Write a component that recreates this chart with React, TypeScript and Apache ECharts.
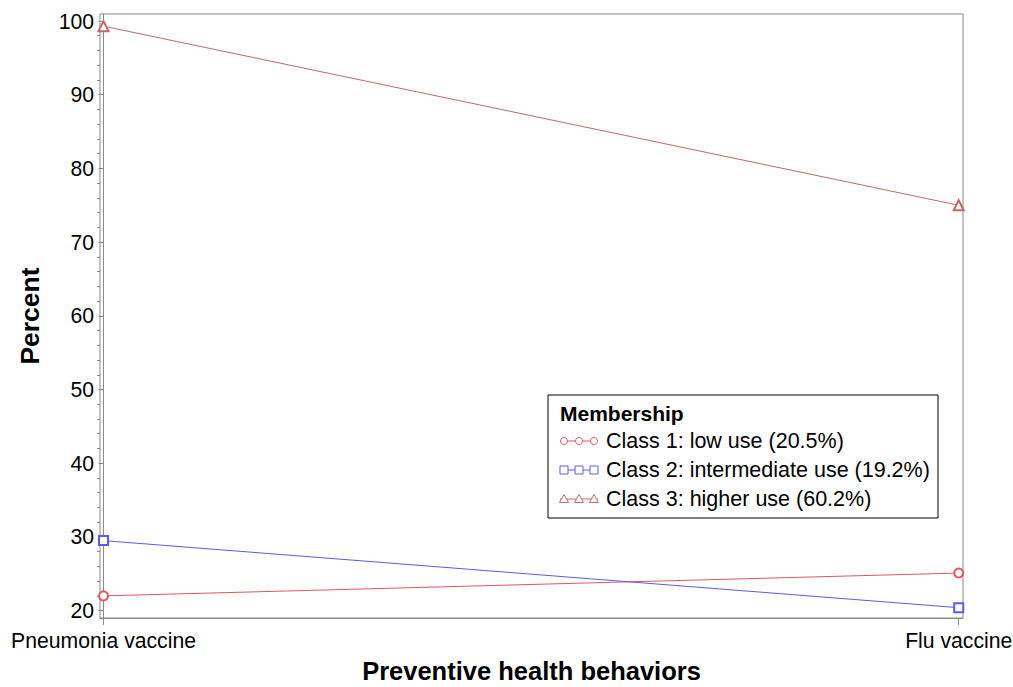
import React, { useEffect, useRef } from "react";
import * as echarts from "echarts";

const categories = ["Pneumonia vaccine", "Flu vaccine"];
const seriesNames = [
  "Class 1: low use (20.5%)",
  "Class 2: intermediate use (19.2%)",
  "Class 3: higher use (60.2%)",
];
const class1 = [22.0, 25.1];
const class2 = [29.5, 20.4];
const class3 = [99.3, 75.0];
const yTicks = [20, 30, 40, 50, 60, 70, 80, 90, 100];
const legendTitle = "Membership";

const colors = ["#e0575c", "#5a5af0", "#c06868"];
const symbols = ["emptyCircle", "emptyRect", "emptyTriangle"];
const FONT = "Liberation Sans, Arial, sans-serif";

export default function App() {
  const ref = useRef<HTMLDivElement>(null);
  useEffect(() => {
    if (!ref.current) return;
    const chart = echarts.init(ref.current, null, { renderer: "svg" });
    const values = [class1, class2, class3];
    const minorTicks: number[] = [];
    for (let v = 20; v < 100; v += 10) {
      for (let k = 2; k < 10; k += 2) minorTicks.push(v + k);
    }
    const gray = "#8a8a8a";

    // legend built with graphic elements
    const lx = 548, ly = 395, lw = 390, lh = 123;
    const legendChildren: any[] = [
      { type: "rect", shape: { x: lx, y: ly, width: lw, height: lh }, style: { fill: "#fff", stroke: "#000", lineWidth: 1 } },
      { type: "text", x: lx + 12, y: ly + 18, style: { text: legendTitle, font: `bold 21px ${FONT}`, fill: "#000", verticalAlign: "middle" } },
    ];
    seriesNames.forEach((name, i) => {
      const cy = ly + 46 + i * 29;
      const x0 = lx + 12;
      const c = colors[i];
      legendChildren.push({ type: "line", shape: { x1: x0, y1: cy, x2: x0 + 38, y2: cy }, style: { stroke: c, lineWidth: 1 } });
      [x0 + 4, x0 + 19, x0 + 34].forEach((mx) => {
        if (i === 0) legendChildren.push({ type: "circle", shape: { cx: mx, cy, r: 3.5 }, style: { fill: "#fff", stroke: c, lineWidth: 1 } });
        else if (i === 1) legendChildren.push({ type: "rect", shape: { x: mx - 4, y: cy - 4, width: 8, height: 8 }, style: { fill: "#fff", stroke: c, lineWidth: 1 } });
        else legendChildren.push({ type: "polygon", shape: { points: [[mx, cy - 4.5], [mx - 4.5, cy + 3.5], [mx + 4.5, cy + 3.5]] }, style: { fill: "#fff", stroke: c, lineWidth: 1 } });
      });
      legendChildren.push({ type: "text", x: x0 + 46, y: cy, style: { text: name, font: `21.5px ${FONT}`, fill: "#000", verticalAlign: "middle" } });
    });

    chart.setOption({
      animation: false,
      backgroundColor: "#fff",
      textStyle: { fontFamily: FONT },
      grid: {
        left: 100, top: 14, right: 50, bottom: 69,
        show: true, borderColor: gray, borderWidth: 1,
        containLabel: false, outerBoundsMode: "none",
      },
      xAxis: {
        type: "value",
        min: -0.0041,
        max: 1.005,
        name: "Preventive health behaviors",
        nameLocation: "middle",
        nameGap: 40,
        nameTextStyle: { fontSize: 25.5, lineHeight: 26, fontWeight: "bold", color: "#000", fontFamily: FONT },
        axisLine: { show: true, lineStyle: { color: gray } },
        axisTick: { show: true, length: 7, customValues: [0, 1], lineStyle: { color: gray } },
        axisLabel: {
          customValues: [0, 1],
          formatter: (v: number) => categories[Math.round(v)],
          fontSize: 21.2,
          color: "#000",
          margin: 12,
          fontFamily: FONT,
        },
        splitLine: { show: false },
      },
      yAxis: [
        {
          type: "value",
          min: 19,
          max: 100.95,
          name: "Percent",
          nameLocation: "middle",
          nameGap: 57,
          nameTextStyle: { fontSize: 26.5, fontWeight: "bold", color: "#000", fontFamily: FONT },
          axisLine: { show: true, lineStyle: { color: gray } },
          axisTick: { show: true, length: 5, customValues: yTicks, lineStyle: { color: gray } },
          axisLabel: { customValues: yTicks, fontSize: 21.2, color: "#000", margin: 6, fontFamily: FONT },
          splitLine: { show: false },
        },
        {
          type: "value",
          min: 19,
          max: 100.95,
          position: "left",
          axisLine: { show: false },
          axisTick: { show: true, length: 3, customValues: minorTicks, lineStyle: { color: gray } },
          axisLabel: { show: false },
          splitLine: { show: false },
        },
      ],
      series: values.map((vals, i) => ({
        name: seriesNames[i],
        type: "line",
        data: vals.map((v, j) => [j, v]),
        symbol: symbols[i],
        symbolSize: i === 2 ? 10 : 9,
        showSymbol: true,
        itemStyle: { color: colors[i], borderWidth: 1 },
        lineStyle: { color: colors[i], width: 1 },
        yAxisIndex: 0,
      })),
      graphic: [{ type: "group", children: legendChildren }],
    });
    return () => chart.dispose();
  }, []);
  return (
    <div
      ref={ref}
      style={{ position: "fixed", left: 0, top: 0, width: 1013, height: 687, background: "#fff" }}
    />
  );
}
